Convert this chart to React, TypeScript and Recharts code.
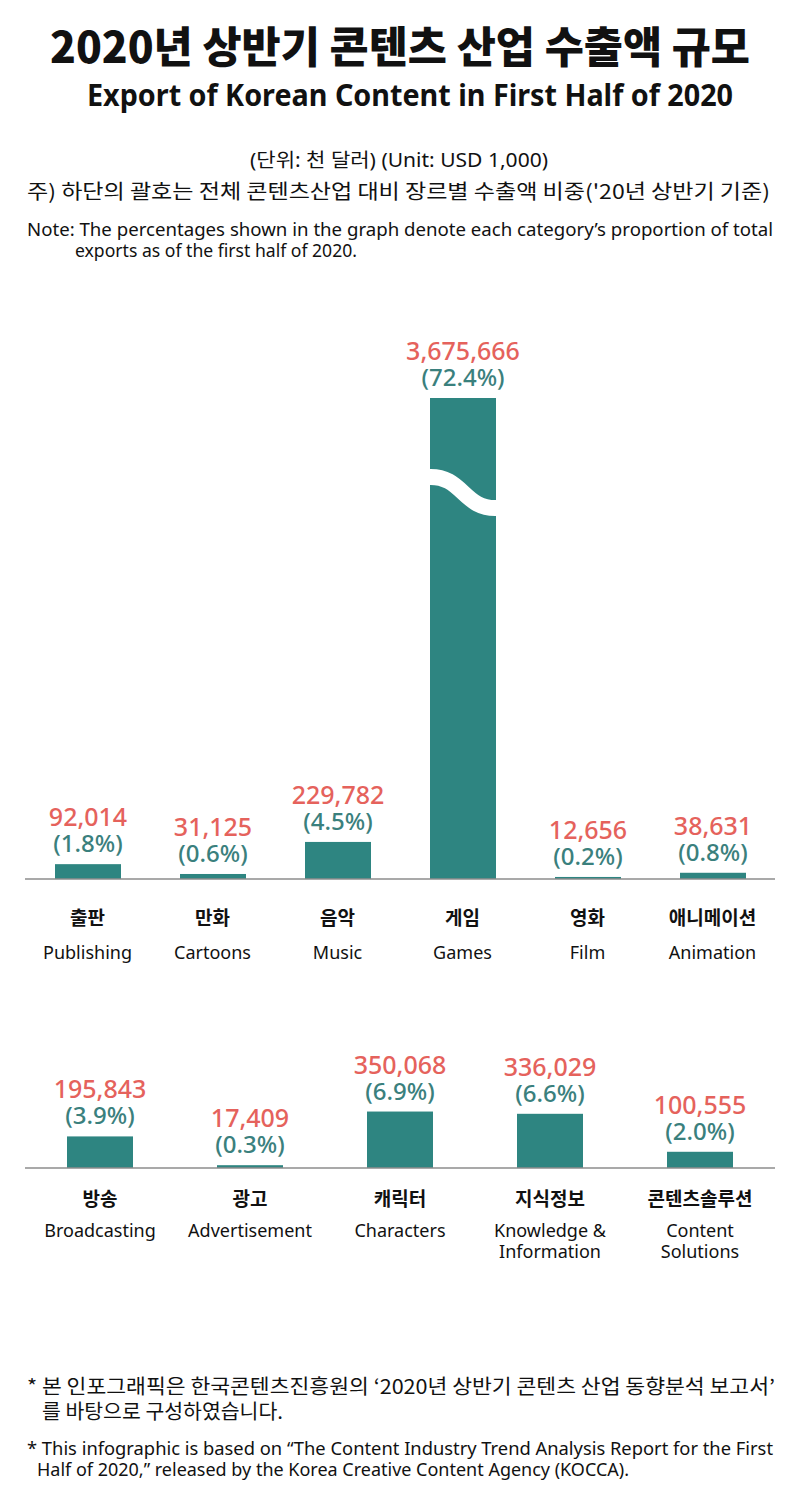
import React from 'react';
import { BarChart, Bar, XAxis, YAxis, LabelList } from 'recharts';

// upper panel
const topKo = ['출판', '만화', '음악', '게임', '영화', '애니메이션'];
const topEn = [['Publishing'], ['Cartoons'], ['Music'], ['Games'], ['Film'], ['Animation']];
const topValues = [92014, 31125, 229782, 3675666, 12656, 38631];
const topShares = [1.8, 0.6, 4.5, 72.4, 0.2, 0.8];

// lower panel
const bottomKo = ['방송', '광고', '캐릭터', '지식정보', '콘텐츠솔루션'];
const bottomEn = [['Broadcasting'], ['Advertisement'], ['Characters'], ['Knowledge &', 'Information'], ['Content', 'Solutions']];
const bottomValues = [195843, 17409, 350068, 336029, 100555];
const bottomShares = [3.9, 0.3, 6.9, 6.6, 2.0];

const BAR_COLOR = '#2E8581';
const VALUE_COLOR = '#E5625C';
const SHARE_COLOR = '#3A807D';
const AXIS_COLOR = '#8C8C8C';
const UNITS_PER_PX = 6200; // same vertical scale for both panels

const LATIN = "'Noto Sans', 'Noto Sans CJK KR', sans-serif";
const HANGUL = "'Noto Sans CJK KR', 'Noto Sans', sans-serif";

interface Row {
    ko: string;
    en: string[];
    value: number;
    share: number;
}

const toRows = (ko: string[], en: string[][], values: number[], shares: number[]): Row[] =>
    ko.map((k, i) => ({ ko: k, en: en[i], value: values[i], share: shares[i] }));

const topRows = toRows(topKo, topEn, topValues, topShares);
const bottomRows = toRows(bottomKo, bottomEn, bottomValues, bottomShares);

interface PanelProps {
    rows: Row[];
    top: number;
    height: number;
    plotTop: number;
    plotHeight: number;
    koOffset: number; // from axis line to korean baseline
    enOffset: number; // from axis line to english baseline
}

function Panel({ rows, top, height, plotTop, plotHeight, koOffset, enOffset }: PanelProps) {
    const baseline = plotTop + plotHeight;
    const domainMax = plotHeight * UNITS_PER_PX;

    // bars taller than the panel are cut at the top and get a white break mark
    const renderBar = (p: any) => {
        const yTop = Math.max(p.y, plotTop);
        const h = Math.max(baseline - yTop, 0);
        const broken = p.payload && p.payload.value > domainMax;
        return (
            <g>
                <rect x={p.x} y={yTop} width={p.width} height={h} fill={BAR_COLOR} />
                {broken && (
                    <path
                        d={`M${p.x - 2},${yTop + 79} C${p.x + p.width * 0.5},${yTop + 77} ${p.x + p.width * 0.5},${yTop + 112} ${p.x + p.width + 2},${yTop + 110}`}
                        stroke="#fff"
                        strokeWidth={16}
                        fill="none"
                    />
                )}
            </g>
        );
    };

    const renderLabel = (p: any) => {
        const row = rows.find((r) => r.value === p.value);
        if (!row) return null;
        const cx = p.x + p.width / 2;
        const yTop = Math.max(p.y, plotTop);
        return (
            <g fontFamily={LATIN} textAnchor="middle" fontWeight={500}>
                <text x={cx} y={yTop - 38} fontSize={25} fill={VALUE_COLOR}>
                    {row.value.toLocaleString('en-US')}
                </text>
                <text x={cx} y={yTop - 12} fontSize={24} fill={SHARE_COLOR}>
                    ({row.share.toFixed(1)}%)
                </text>
            </g>
        );
    };

    const renderTick = (p: any) => {
        const row = rows.find((r) => r.ko === p.payload.value);
        if (!row) return null;
        return (
            <g textAnchor="middle">
                <text x={p.x} y={baseline + koOffset} fontSize={19} fontWeight={700} fontFamily={HANGUL} fill="#111">
                    {row.ko}
                </text>
                {row.en.map((line, i) => (
                    <text key={line} x={p.x} y={baseline + enOffset + i * 21} fontSize={18} fontFamily={LATIN} fill="#111">
                        {line}
                    </text>
                ))}
            </g>
        );
    };

    return (
        <div style={{ position: 'absolute', left: 0, top, width: 800, height }}>
            <BarChart
                width={800}
                height={height}
                data={rows}
                margin={{ top: plotTop, right: 25, left: 25, bottom: 0 }}
            >
                <XAxis
                    dataKey="ko"
                    height={height - plotTop - plotHeight}
                    axisLine={{ stroke: AXIS_COLOR, strokeWidth: 1.5 }}
                    tickLine={false}
                    interval={0}
                    tick={renderTick}
                />
                <YAxis hide domain={[0, domainMax]} allowDataOverflow />
                <Bar dataKey="value" barSize={66} shape={renderBar} isAnimationActive={false}>
                    <LabelList dataKey="value" content={renderLabel} />
                </Bar>
            </BarChart>
        </div>
    );
}

const Line = ({ x, y, w, size, weight = 400, font = LATIN, children }: any) => (
    <text x={x} y={y} fontSize={size} fontWeight={weight} fontFamily={font} fill="#111"
        textLength={w} lengthAdjust="spacingAndGlyphs">
        {children}
    </text>
);

export default function App() {
    return (
        <div style={{ position: 'absolute', left: 0, top: 0, width: 800, height: 1500, background: '#fff', overflow: 'hidden' }}>
            <svg width={800} height={1500} style={{ position: 'absolute', left: 0, top: 0 }}>
                <Line x={50} y={63} w={700} size={43} weight={900} font={HANGUL}>2020년 상반기 콘텐츠 산업 수출액 규모</Line>
                <Line x={87} y={106} w={646} size={31} weight={700}>Export of Korean Content in First Half of 2020</Line>
                <Line x={250} y={167} w={298} size={19}>(단위: 천 달러) (Unit: USD 1,000)</Line>
                <Line x={27} y={199} w={743} size={20} font={HANGUL}>주) 하단의 괄호는 전체 콘텐츠산업 대비 장르별 수출액 비중('20년 상반기 기준)</Line>
                <Line x={27} y={236} w={746} size={18}>Note: The percentages shown in the graph denote each category’s proportion of total</Line>
                <Line x={75} y={257} w={282} size={18}>exports as of the first half of 2020.</Line>

                <Line x={27} y={1394} w={748} size={20} font={HANGUL}>* 본 인포그래픽은 한국콘텐츠진흥원의 ‘2020년 상반기 콘텐츠 산업 동향분석 보고서’</Line>
                <Line x={42} y={1419} w={241} size={20} font={HANGUL}>를 바탕으로 구성하였습니다.</Line>
                <Line x={27} y={1455} w={746} size={18}>* This infographic is based on “The Content Industry Trend Analysis Report for the First</Line>
                <Line x={37} y={1476} w={592} size={18}>Half of 2020,” released by the Korea Creative Content Agency (KOCCA).</Line>
            </svg>
            <Panel rows={topRows} top={300} height={700} plotTop={98} plotHeight={481} koOffset={46} enOffset={80} />
            <Panel rows={bottomRows} top={900} height={400} plotTop={108} plotHeight={160} koOffset={38} enOffset={69} />
        </div>
    );
}
